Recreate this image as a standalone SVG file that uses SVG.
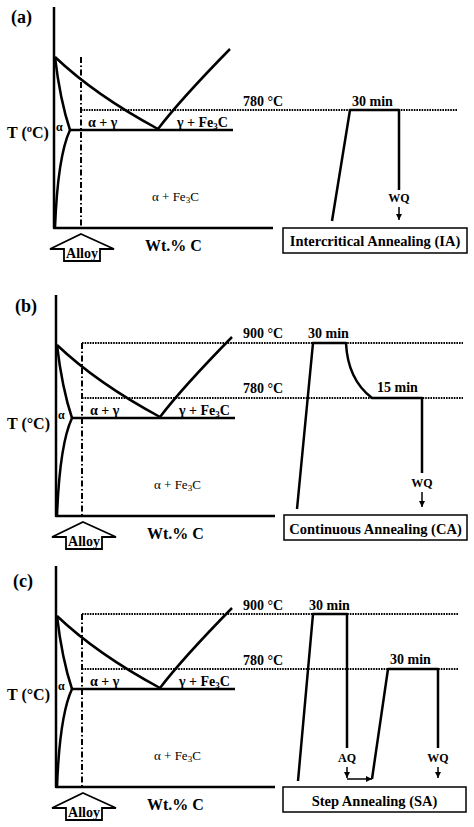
<svg xmlns="http://www.w3.org/2000/svg" xmlns:xlink="http://www.w3.org/1999/xlink" width="474" height="827" viewBox="0 0 474 827">
<style>
text{font-family:"Liberation Serif","Times New Roman",serif;fill:#000}
.b{font-weight:bold}
.ln{fill:none;stroke:#000;stroke-width:2.5;stroke-linejoin:round}
.dot{fill:none;stroke:#000;stroke-width:2.2;stroke-dasharray:1.6 1}
.dd{fill:none;stroke:#000;stroke-width:2;stroke-dasharray:6 2.5 1.5 2.5}
.box{fill:#fff;stroke:#000;stroke-width:1.5}
.ar{fill:none;stroke:#000;stroke-width:1.5}
.lab{font-size:18px;font-weight:bold}
.ax{font-size:16px;font-weight:bold}
.ph{font-size:14px;font-weight:bold}
.ph2{font-size:13px}
.tm{font-size:14px;font-weight:bold}
.q{font-size:12px;font-weight:bold}
.bt{font-size:14.5px;font-weight:bold}
</style>
<defs>
<marker id="ah" viewBox="0 0 10 10" refX="10" refY="5" markerWidth="6" markerHeight="6" markerUnits="userSpaceOnUse" orient="auto"><path d="M0,0 L10,5 L0,10 z"/></marker>
<g id="phase">
<path class="ln" d="M54,7 V228 H273"/>
<path class="ln" d="M70,130 H233"/>
<path class="ln" d="M55,57 Q60,100 70,130"/>
<path class="ln" d="M70,130 C63,145 57,175 55,228"/>
<path class="ln" d="M55,57 Q95,95 158,129"/>
<path class="ln" d="M158,129 Q180,100 230,49"/>
<text x="56" y="131" style="font-size:12px;font-weight:bold">α</text>
<text x="88" y="127" class="ph">α + γ</text>
<text x="177" y="127" class="ph">γ + Fe<tspan font-size="9" dy="2">3</tspan><tspan dy="-2">C</tspan></text>
<text x="152" y="201" class="ph2">α + Fe<tspan font-size="9" dy="2">3</tspan><tspan dy="-2">C</tspan></text>
<text x="145" y="251" class="ax">Wt.% C</text>
<path d="M81,234 L114,249 H100 V261 H64 V249 H50 Z" fill="#fff" stroke="#000" stroke-width="1.8" stroke-linejoin="miter"/>
<text x="82" y="258" text-anchor="middle" style="font-size:14px;font-weight:bold">Alloy</text>
</g>
</defs>

<g id="panel-a">
<text x="11" y="23" class="lab">(a)</text>
<use xlink:href="#phase"/>
<text x="7" y="138" class="ax">T (ºC)</text>
<path class="dd" d="M81,57 V228"/>
<path class="dot" d="M81,110 H457"/>
<text x="243" y="106" class="tm">780 °C</text>
<text x="352" y="106" class="tm">30 min</text>
<path class="ln" d="M332,221 L350,110 H399 V190"/>
<text x="399" y="202" text-anchor="middle" class="q">WQ</text>
<path class="ar" d="M399,207 V220" marker-end="url(#ah)"/>
<g id="box-ia">
<rect class="box" x="283" y="228" width="184" height="25"/>
<text x="375" y="246" text-anchor="middle" class="bt">Intercritical Annealing (IA)</text>
</g>
</g>

<g id="panel-b">
<text x="15" y="312" class="lab">(b)</text>
<use xlink:href="#phase" transform="translate(2,288)"/>
<text x="7" y="429" class="ax">T (°C)</text>
<path class="dd" d="M82,343 V516"/>
<path class="dot" d="M82,343 H463"/>
<path class="dot" d="M82,398 H463"/>
<text x="243" y="338" class="tm">900 °C</text>
<text x="308" y="338" class="tm">30 min</text>
<text x="243" y="393" class="tm">780 °C</text>
<text x="377" y="392" class="tm">15 min</text>
<path class="ln" d="M297,509 L313,343 H346 C347,365 355,385 372,398 H422 V473"/>
<text x="422" y="487" text-anchor="middle" class="q">WQ</text>
<path class="ar" d="M422,492 V507" marker-end="url(#ah)"/>
<g id="box-ca">
<rect class="box" x="284" y="515" width="183" height="25"/>
<text x="375.5" y="534" text-anchor="middle" class="bt">Continuous Annealing (CA)</text>
</g>
</g>

<g id="panel-c">
<text x="13" y="587" class="lab">(c)</text>
<use xlink:href="#phase" transform="translate(2,559)"/>
<text x="7" y="700" class="ax">T (°C)</text>
<path class="dd" d="M82,614 V787"/>
<path class="dot" d="M82,614 H458"/>
<path class="dot" d="M82,669 H458"/>
<text x="243" y="610" class="tm">900 °C</text>
<text x="309" y="610" class="tm">30 min</text>
<text x="243" y="665" class="tm">780 °C</text>
<text x="390" y="664" class="tm">30 min</text>
<path class="ln" d="M298,781 L313,614 H347 V748"/>
<text x="347" y="762" text-anchor="middle" class="q">AQ</text>
<path class="ar" d="M347,767 V778" marker-end="url(#ah)"/>
<path class="ar" d="M347,779 H372" marker-end="url(#ah)"/>
<path class="ln" d="M372,779 L388,669 H438 V748"/>
<text x="438" y="762" text-anchor="middle" class="q">WQ</text>
<path class="ar" d="M438,767 V778" marker-end="url(#ah)"/>
<g id="box-sa">
<rect class="box" x="283" y="787" width="183" height="25"/>
<text x="374.5" y="806" text-anchor="middle" class="bt">Step Annealing (SA)</text>
</g>
</g>
</svg>
